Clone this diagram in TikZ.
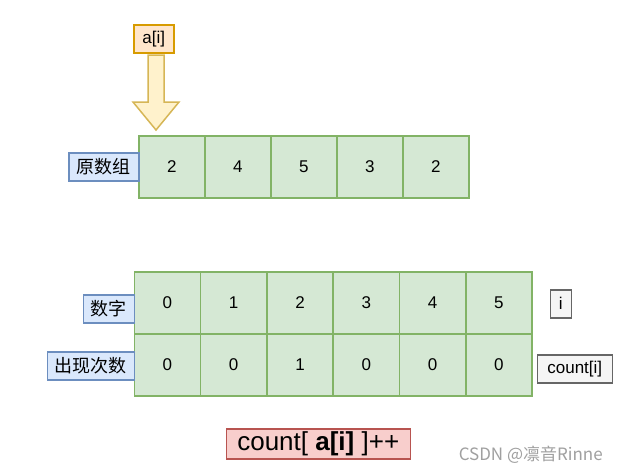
\documentclass[tikz,border=0pt]{standalone}
\usepackage{fontspec}
\setmainfont{Liberation Sans}
\newfontfamily\cjk{Noto Sans CJK SC}
\definecolor{gfill}{HTML}{D5E8D4}
\definecolor{gline}{HTML}{82B366}
\definecolor{bfill}{HTML}{DAE8FC}
\definecolor{bline}{HTML}{6C8EBF}
\definecolor{ofill}{HTML}{FFE6CC}
\definecolor{oline}{HTML}{D79B00}
\definecolor{yfill}{HTML}{FFF2CC}
\definecolor{yline}{HTML}{D6B656}
\definecolor{wfill}{HTML}{F5F5F5}
\definecolor{wline}{HTML}{666666}
\definecolor{rfill}{HTML}{F8CECC}
\definecolor{rline}{HTML}{B85450}
\definecolor{wm}{HTML}{A0A0A0}
\begin{document}
\begin{tikzpicture}[x=1pt,y=-1pt,
  every node/.style={font=\fontsize{17}{20}\selectfont, inner sep=0pt, line width=1.5pt},
  cellbox/.style={draw=gline, fill=gfill, anchor=north west, minimum width=66pt, minimum height=62pt},
  cellbox2/.style={draw=gline, fill=gfill, anchor=north west, minimum width=66.3pt, minimum height=62pt},
  bluebox/.style={draw=bline, fill=bfill, anchor=north west, font=\cjk\fontsize{18}{20}\selectfont},
  greybox/.style={draw=wline, fill=wfill, anchor=north west},
]
\useasboundingbox[fill=white] (0,0) rectangle (637,472);
% a[i] label
\node[draw=oline, fill=ofill, anchor=north west, minimum width=40pt, minimum height=28pt] (ai) at (133,24) {a[i]};
% arrow
\draw[draw=yline, fill=yfill, line width=1.5pt, line join=miter]
  (148,55) -- (164,55) -- (164,102) -- (179,102) -- (156,130) -- (133,102) -- (148,102) -- cycle;
% top array
\foreach \v [count=\k from 0] in {2,4,5,3,2}{
  \node[cellbox] (t\k) at ({138+66*\k},135) {\v};
}
\node[bluebox, minimum width=70pt, minimum height=28pt] (orig) at (68,152) {原数组};
% bottom table
\foreach \v [count=\k from 0] in {0,1,2,3,4,5}{
  \node[cellbox2] (n\k) at ({133.5+66.3*\k},271) {\v};
}
\foreach \v [count=\k from 0] in {0,0,1,0,0,0}{
  \node[cellbox2] (c\k) at ({133.5+66.3*\k},333) {\v};
}
\node[bluebox, minimum width=51pt, minimum height=28pt] (num) at (82.5,294) {数字};
\node[bluebox, minimum width=87pt, minimum height=28pt] (times) at (46.5,351) {出现次数};
\node[greybox, minimum width=21pt, minimum height=28pt] (ilab) at (549.5,289) {i};
\node[greybox, minimum width=75pt, minimum height=28pt] (clab) at (536.5,354) {count[i]};
% formula
\node[draw=rline, fill=rfill, anchor=north west, minimum width=184pt, minimum height=30pt, font=\fontsize{26}{30}\selectfont] (formula) at (225.5,428) {count[ \textbf{a[i]} ]++};
% watermark
\node[anchor=west, text=wm, font=\cjk\fontsize{17}{20}\selectfont] (wmk) at (458,455) {CSDN @凛音Rinne};
\end{tikzpicture}
\end{document}
